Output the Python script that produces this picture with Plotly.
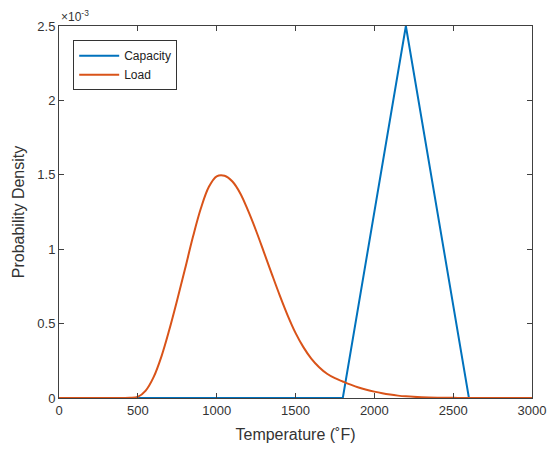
import plotly.graph_objects as go

# Capacity (triangular distribution)
cap_x = [0, 1800, 2200, 2600, 3000]
cap_y = [0, 0, 2.5e-3, 0, 0]

# Load (values in units of 1e-3)
load_x = [0, 400, 450, 500, 550, 600, 650, 700, 750, 800, 850, 900, 950, 1000,
          1050, 1100, 1150, 1200, 1250, 1300, 1350, 1400, 1450, 1500,
          1550, 1600, 1650, 1700, 1750, 1800, 1850, 1900, 1950, 2000, 2050,
          2100, 2150, 2200, 2300, 2400, 2500, 2600, 3000]
load_y_e3 = [0, 0, 0.001, 0.008, 0.05, 0.14, 0.28, 0.46, 0.66, 0.87, 1.085, 1.275,
             1.418, 1.49, 1.494, 1.455, 1.375, 1.257, 1.124, 0.979, 0.833,
             0.69, 0.556, 0.438, 0.342, 0.265, 0.207, 0.163, 0.133, 0.111, 0.09,
             0.071, 0.056, 0.043, 0.032, 0.023, 0.016, 0.011, 0.005, 0.002, 0.001,
             0, 0]
load_y = [v * 1e-3 for v in load_y_e3]

x_ticks = [0, 500, 1000, 1500, 2000, 2500, 3000]
y_tick_vals = [0, 0.5e-3, 1e-3, 1.5e-3, 2e-3, 2.5e-3]
y_tick_text = ["0", "0.5", "1", "1.5", "2", "2.5"]

BLUE = "#0072BD"
ORANGE = "#D95319"
AX = "#404040"
TXT = "#333333"

fig = go.Figure()
fig.add_trace(go.Scatter(x=cap_x, y=cap_y, mode="lines", name="Capacity",
                         line=dict(color=BLUE, width=2)))
fig.add_trace(go.Scatter(x=load_x, y=load_y, mode="lines", name="Load",
                         line=dict(color=ORANGE, width=2, shape="spline", smoothing=1.0)))

font = "Liberation Sans, Arial, Helvetica, sans-serif"
fig.update_layout(
    width=549, height=449,
    margin=dict(l=59, r=17, t=26, b=51),
    paper_bgcolor="white", plot_bgcolor="white",
    font=dict(family=font, size=13, color=TXT),
    showlegend=True,
    legend=dict(x=0.03, y=0.962, xanchor="left", yanchor="top",
                bgcolor="white", bordercolor="#333333", borderwidth=1,
                font=dict(size=12, color="#222222"),
                tracegroupgap=0, itemwidth=40),
    xaxis=dict(range=[0, 3000], tickvals=x_ticks, automargin=False,
               ticks="inside", ticklen=5, tickcolor=AX,
               showline=True, linecolor=AX, linewidth=1, mirror="ticks",
               showgrid=False, zeroline=False,
               title=dict(text="Temperature (˚F)", font=dict(size=16, color=TXT), standoff=12),
               tickfont=dict(size=13, color=TXT)),
    yaxis=dict(range=[0, 2.5e-3], tickvals=y_tick_vals, ticktext=y_tick_text, automargin=False,
               ticks="inside", ticklen=5, tickcolor=AX,
               showline=True, linecolor=AX, linewidth=1, mirror="ticks",
               showgrid=False, zeroline=False,
               title=dict(text="Probability Density", font=dict(size=16, color=TXT), standoff=8),
               tickfont=dict(size=13, color=TXT)),
    annotations=[dict(text="×10<sup>-3</sup>", xref="paper", yref="paper",
                      x=0.0, y=1.0, xanchor="left", yanchor="bottom",
                      showarrow=False, font=dict(size=12, color=TXT))],
)

fig.write_html("out.html", config={"displayModeBar": False},
               post_script="document.body.style.margin='0';")
